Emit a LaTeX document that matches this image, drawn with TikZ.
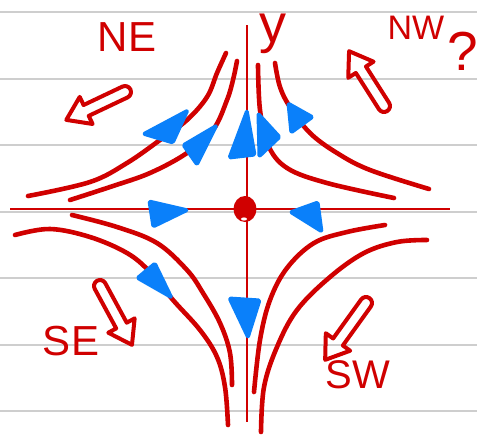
\documentclass[tikz,border=0pt]{standalone}
\usepackage{fontspec}
\setmainfont{Liberation Sans}
\definecolor{inkred}{RGB}{208,0,0}
\definecolor{inkblue}{RGB}{10,128,250}
\definecolor{rule}{RGB}{206,206,206}
\newcommand\hollowarrow[4]{%
  \begin{scope}[shift={(#1,#2)},x=1pt,y=1pt,rotate=#3]
    \draw[arrowpen] ({#4-22},6) -- (0,6) arc[start angle=90,end angle=270,radius=6]
      -- ({#4-22},-6) -- ({#4-22},-15) -- (#4,0) -- ({#4-22},15) -- cycle;
  \end{scope}}
\begin{document}
\begin{tikzpicture}[x=1pt,y=-1pt,
  curve/.style={draw=inkred, line width=4.6pt, line cap=round, line join=round},
  arrowpen/.style={draw=inkred, line width=4pt, line cap=round, line join=round},
  axis/.style={draw=inkred, line width=1.8pt},
  ruleline/.style={draw=rule, line width=1.3pt},
  tip/.style={fill=inkblue, draw=inkblue, line width=3pt, line join=round, rounded corners=1.5pt},
  lbl/.style={text=inkred, inner sep=0pt}]
\useasboundingbox (0,0) rectangle (477,440);
\clip (0,0) rectangle (477,440);
\fill[white] (0,0) rectangle (477,440);
% ruled paper
\foreach \yy in {12,79,145,212,278,345,411}
  \draw[ruleline] (0,\yy) -- (477,\yy);
% axes
\coordinate (xl) at (10,209);
\coordinate (xr) at (450,209);
\coordinate (yt) at (247,25);
\coordinate (yb) at (247,422);
\draw[axis] (xl) -- (xr);
\draw[axis] (yt) -- (yb);
% origin
\fill[inkred] (245,209) ellipse [x radius=11.5, y radius=13];
\fill[white] (244,219) ellipse [x radius=3, y radius=1.6];
% upper-left curves
\draw[curve] plot[smooth, tension=0.6] coordinates {(28,196) (90,182) (127,163) (160,140) (187,120) (207,97) (217,73) (226,53)};
\draw[curve] plot[smooth, tension=0.6] coordinates {(70,200) (110,187) (150,173) (187,153) (213,130) (227,100) (233,80) (237,61)};
% upper-right curves
\draw[curve] plot[smooth, tension=0.6] coordinates {(258,65) (260,110) (268,145) (287,168) (327,183) (394,198)};
\draw[curve] plot[smooth, tension=0.6] coordinates {(275,63) (280,87) (290,107) (310,133) (337,153) (370,170) (429,189)};
% lower-left curves
\draw[curve] plot[smooth, tension=0.6] coordinates {(15,235) (50,229) (90,237) (127,253) (150,272) (173,300) (200,330) (217,357) (225,387) (228,425)};
\draw[curve] plot[smooth, tension=0.6] coordinates {(72,215) (117,227) (157,243) (187,270) (203,293) (220,323) (230,353) (232,385)};
% lower-right curves
\draw[curve] plot[smooth, tension=0.6] coordinates {(385,225) (347,232) (314,243) (287,268) (270,300) (260,340) (254,392)};
\draw[curve] plot[smooth, tension=0.6] coordinates {(427,240) (397,242) (364,253) (330,277) (297,310) (277,347) (264,387) (261,432)};
% blue arrowheads
\filldraw[tip] (188,110) -- (143,134) -- (173,143) -- cycle;
\filldraw[tip] (217,125) -- (183,145) -- (197,165) -- cycle;
\filldraw[tip] (247,110) -- (229,158) -- (255,155) -- cycle;
\filldraw[tip] (258,113) -- (259,157) -- (280,137) -- cycle;
\filldraw[tip] (288,103) -- (313,117) -- (291,133) -- cycle;
\filldraw[tip] (188,210) -- (149,201) -- (153,227) -- cycle;
\filldraw[tip] (290,212) -- (318,202) -- (322,232) -- cycle;
\filldraw[tip] (172,298) -- (137,278) -- (155,263) -- cycle;
\filldraw[tip] (248,338) -- (229,298) -- (260,300) -- cycle;
% hollow direction arrows
\hollowarrow{125}{92}{205.4}{65}
\hollowarrow{384}{106}{122.5}{65}
\hollowarrow{100}{286}{-61.5}{67}
\hollowarrow{366}{303}{234.3}{70}
% labels
\node[lbl, font=\fontsize{42}{42}\selectfont] (ne) at (127,37) {NE};
\node[lbl, font=\fontsize{54}{54}\selectfont, anchor=base] (ylab) at (273,42) {y};
\node[lbl, font=\fontsize{34}{34}\selectfont] (nw) at (416,28) {NW};
\node[lbl, font=\fontsize{55}{55}\selectfont, anchor=base west] (q) at (447,70) {?};
\node[lbl, font=\fontsize{42}{42}\selectfont] (se) at (71,341) {SE};
\node[lbl, font=\fontsize{40}{40}\selectfont] (sw) at (358,375) {SW};
\end{tikzpicture}
\end{document}
